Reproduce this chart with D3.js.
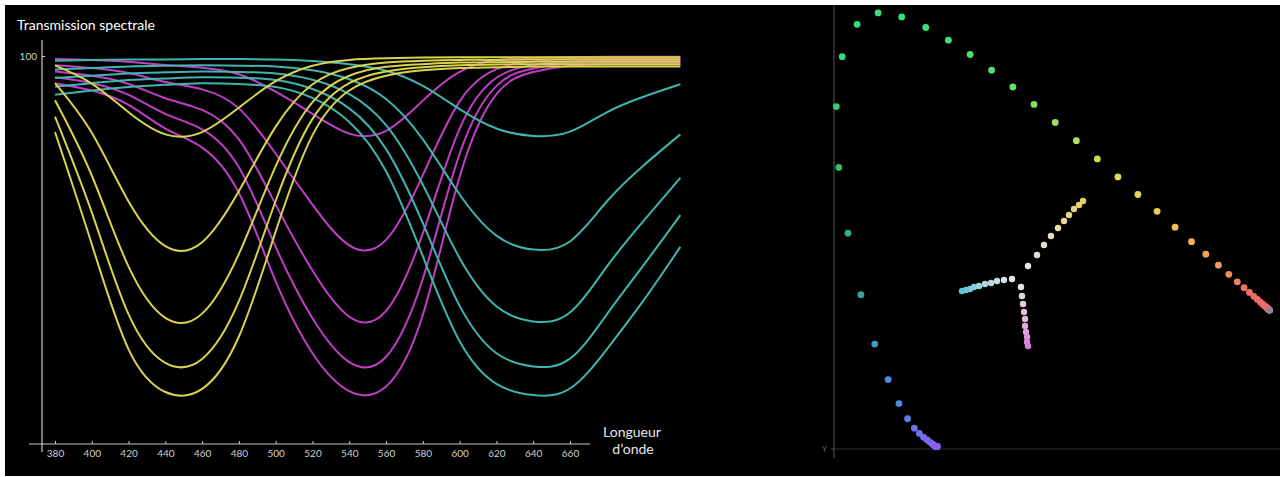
<!DOCTYPE html>
<html>
<head>
<meta charset="utf-8">
<script src="https://cdn.jsdelivr.net/npm/d3@7"></script>
<style>
  html, body { margin: 0; padding: 0; background: #ffffff; }
  svg { display: block; }
  text { font-family: Lato, "Open Sans", sans-serif; }
</style>
</head>
<body>
<svg id="chart" width="1280" height="477"></svg>
<script>
// ---- Spectral transmission (percent) sampled every 20 nm ----
const wavelengths = [380, 400, 420, 440, 460, 480, 500, 520, 540, 560, 580, 600, 620, 640, 660, 680, 700, 720];
const axisTicks = [380, 400, 420, 440, 460, 480, 500, 520, 540, 560, 580, 600, 620, 640, 660];

// Yellow filters, increasing density
const yellow1 = [97.6, 92.9, 85.5, 79.8, 80.4, 86.7, 93.5, 97.5, 99.0, 99.4, 99.6, 99.7, 99.7, 99.7, 99.7, 99.7, 99.7, 99.7];
const yellow2 = [93.0, 80.2, 62.5, 51.0, 52.0, 65.2, 81.8, 92.7, 96.9, 98.3, 98.8, 99.0, 99.0, 99.1, 99.1, 99.1, 99.1, 99.1];
const yellow3 = [88.6, 69.2, 45.7, 32.5, 33.6, 49.0, 71.6, 88.1, 94.9, 97.2, 97.9, 98.3, 98.4, 98.5, 98.5, 98.5, 98.5, 98.5];
const yellow4 = [84.4, 59.7, 33.4, 20.9, 21.9, 36.8, 62.7, 83.8, 93.0, 96.0, 97.1, 97.6, 97.8, 97.9, 97.9, 97.9, 97.9, 97.9];
const yellow5 = [80.4, 51.5, 24.4, 13.4, 14.2, 27.7, 54.8, 79.6, 91.1, 94.9, 96.3, 96.9, 97.1, 97.3, 97.3, 97.3, 97.3, 97.3];

// Magenta filters, increasing density
const magenta1 = [99.2, 99.0, 98.5, 97.7, 97.0, 95.3, 90.8, 85.1, 80.0, 80.7, 88.5, 95.9, 98.9, 99.5, 99.7, 99.8, 99.8, 99.8];
const magenta2 = [97.6, 96.9, 95.6, 93.3, 91.4, 86.5, 74.8, 61.7, 51.2, 52.6, 69.3, 88.3, 96.6, 98.6, 99.2, 99.3, 99.3, 99.3];
const magenta3 = [96.0, 94.9, 92.8, 89.1, 86.1, 78.5, 61.7, 44.7, 32.8, 34.3, 54.3, 81.3, 94.4, 97.7, 98.6, 98.9, 98.9, 98.9];
const magenta4 = [94.5, 93.0, 90.0, 85.1, 81.1, 71.3, 50.8, 32.4, 21.1, 22.5, 42.6, 74.8, 92.3, 96.8, 98.1, 98.4, 98.4, 98.4];
const magenta5 = [93.0, 91.1, 87.4, 81.3, 76.4, 64.7, 41.9, 23.4, 13.6, 14.8, 33.3, 68.9, 90.2, 95.9, 97.5, 97.9, 97.9, 97.9];

// Cyan filters, increasing density
const cyan1 = [98.8, 99.0, 99.1, 99.1, 99.2, 99.2, 99.1, 98.7, 97.9, 96.2, 92.3, 86.3, 81.3, 79.4, 80.5, 85.5, 89.5, 92.7];
const cyan2 = [96.5, 96.9, 97.3, 97.5, 97.6, 97.5, 97.3, 96.3, 94.0, 88.9, 78.5, 64.3, 53.7, 50.1, 52.2, 62.5, 71.8, 79.8];
const cyan3 = [94.3, 94.9, 95.5, 95.8, 96.0, 95.9, 95.5, 93.9, 90.2, 82.2, 66.8, 47.9, 35.5, 31.6, 33.9, 45.7, 57.5, 68.6];
const cyan4 = [92.1, 93.0, 93.8, 94.2, 94.5, 94.4, 93.8, 91.5, 86.5, 76.0, 56.9, 35.6, 23.4, 20.0, 22.0, 33.4, 46.1, 59.0];
const cyan5 = [90.0, 91.1, 92.0, 92.6, 93.0, 92.8, 92.0, 89.2, 83.0, 70.3, 48.4, 26.5, 15.5, 12.6, 14.3, 24.4, 37.0, 50.8];

// ---- Chromaticity diagram ----
const locusNm = [380,385,390,395,400,405,410,415,420,425,430,435,440,445,450,455,460,465,470,475,480,485,490,495,500,505,510,515,520,525,530,535,540,545,550,555,560,565,570,575,580,585,590,595,600,605,610,615,620,625,630,635,640,645,650,655,660,665,670,675,680,685,690,695,700];
const locusX = [0.1741,0.1740,0.1738,0.1736,0.1733,0.1730,0.1726,0.1721,0.1714,0.1703,0.1689,0.1669,0.1644,0.1611,0.1566,0.1510,0.1440,0.1355,0.1241,0.1096,0.0913,0.0687,0.0454,0.0235,0.0082,0.0039,0.0139,0.0389,0.0743,0.1142,0.1547,0.1929,0.2296,0.2658,0.3016,0.3373,0.3731,0.4087,0.4441,0.4788,0.5125,0.5448,0.5752,0.6029,0.6270,0.6482,0.6658,0.6801,0.6915,0.7006,0.7079,0.7140,0.7190,0.7230,0.7260,0.7283,0.7300,0.7311,0.7320,0.7327,0.7334,0.7340,0.7344,0.7346,0.7347];
const locusY = [0.0050,0.0050,0.0049,0.0049,0.0048,0.0048,0.0048,0.0048,0.0051,0.0058,0.0069,0.0086,0.0109,0.0138,0.0177,0.0227,0.0297,0.0399,0.0578,0.0868,0.1327,0.2007,0.2950,0.4127,0.5384,0.6548,0.7502,0.8120,0.8338,0.8262,0.8059,0.7816,0.7543,0.7243,0.6923,0.6589,0.6245,0.5896,0.5547,0.5202,0.4866,0.4544,0.4242,0.3965,0.3725,0.3514,0.3340,0.3197,0.3083,0.2993,0.2920,0.2859,0.2809,0.2770,0.2740,0.2717,0.2700,0.2689,0.2680,0.2673,0.2666,0.2660,0.2656,0.2654,0.2653];

// Filter chromaticities with rising density
const yellowPathX = [0.3272,0.3423,0.3541,0.3659,0.3777,0.3879,0.3963,0.4047,0.4132,0.4199];
const yellowPathY = [0.3499,0.3709,0.3901,0.4073,0.4226,0.4359,0.4474,0.4589,0.4665,0.4742];
const cyanPathX = [0.3002,0.2867,0.2749,0.2648,0.2546,0.2445,0.2361,0.2293,0.2226,0.2159];
const cyanPathY = [0.3250,0.3231,0.3212,0.3174,0.3155,0.3117,0.3098,0.3059,0.3040,0.3021];
const magentaPathX = [0.3153,0.3170,0.3187,0.3204,0.3221,0.3221,0.3238,0.3255,0.3255,0.3272];
const magentaPathY = [0.3098,0.2925,0.2772,0.2620,0.2486,0.2352,0.2237,0.2141,0.2046,0.1969];

// ---- drawing ----
const svg = d3.select("#chart");
svg.append("rect").attr("x", 5).attr("y", 5).attr("width", 1275).attr("height", 471).attr("fill", "#000");

const axisColor = "#c8c8c8";
const x = d3.scaleLinear().domain([380, 660]).range([55, 570]);
const y = d3.scaleLinear().domain([0, 100]).range([444, 56]);

const left = svg.append("g");

// axes
left.append("line").attr("x1", x(380) - 26).attr("x2", x(660) + 20)
  .attr("y1", y(0)).attr("y2", y(0)).attr("stroke", axisColor).attr("stroke-width", 1.2);
left.append("line").attr("x1", x(380) - 13).attr("x2", x(380) - 13)
  .attr("y1", y(100) - 16).attr("y2", y(0) + 8).attr("stroke", axisColor).attr("stroke-width", 1.2);

const xAxis = d3.axisBottom(x).tickValues(axisTicks).tickSizeInner(-3).tickSizeOuter(0).tickPadding(6);
const gx = left.append("g").attr("transform", `translate(0,${y(0)})`).call(xAxis);
gx.select(".domain").remove();
gx.selectAll(".tick line").attr("stroke", axisColor);
gx.selectAll(".tick text").attr("fill", "#cfcfcf").attr("font-size", 10).attr("font-family", "Lato, sans-serif");

const yAxis = d3.axisLeft(y).tickValues([100]).tickSizeInner(-3).tickSizeOuter(0).tickPadding(5);
const gy = left.append("g").attr("transform", `translate(${x(380) - 13},0)`).call(yAxis);
gy.select(".domain").remove();
gy.selectAll(".tick line").attr("stroke", axisColor);
gy.selectAll(".tick text").attr("fill", "#cfcfcf").attr("font-size", 10).attr("font-family", "Lato, sans-serif");

// curves
const line = d3.line()
  .x((d, i) => x(wavelengths[i]))
  .y(d => y(d))
  .curve(d3.curveNatural);

const families = [
  { color: "#c23ec6", series: [magenta1, magenta2, magenta3, magenta4, magenta5] },
  { color: "#3fb5b0", series: [cyan1, cyan2, cyan3, cyan4, cyan5] },
  { color: "#d9d34e", series: [yellow1, yellow2, yellow3, yellow4, yellow5] }
];
families.forEach(f => {
  left.append("g").selectAll("path").data(f.series).join("path")
    .attr("d", line)
    .attr("fill", "none")
    .attr("stroke", f.color)
    .attr("stroke-width", 2)
    .attr("stroke-linejoin", "round");
});

// titles
left.append("text").attr("x", 17).attr("y", 30).attr("fill", "#ffffff")
  .attr("font-size", 14).text("Transmission spectrale");
const xt = left.append("text").attr("x", 632).attr("y", 437).attr("fill", "#e6e6e6")
  .attr("font-size", 14).attr("text-anchor", "middle");
xt.append("tspan").attr("x", 632).text("Longueur");
xt.append("tspan").attr("x", 633).attr("dy", 17).text("d\u2019onde");

// ---- chromaticity plot ----
const cx = d3.scaleLinear().domain([0, 0.75]).range([834, 834 + 0.75 * 593]);
const cy = d3.scaleLinear().domain([0, 0.85]).range([449, 449 - 0.85 * 523]);
const right = svg.append("g");

right.append("line").attr("x1", cx(0)).attr("x2", 1280).attr("y1", cy(0)).attr("y2", cy(0))
  .attr("stroke", "#2e2e2e").attr("stroke-width", 1);
right.append("line").attr("x1", cx(0)).attr("x2", cx(0)).attr("y1", 5).attr("y2", cy(0) + 9)
  .attr("stroke", "#555").attr("stroke-width", 1);
right.append("line").attr("x1", cx(0) - 3).attr("x2", cx(0)).attr("y1", cy(0)).attr("y2", cy(0))
  .attr("stroke", "#555").attr("stroke-width", 1);
right.append("text").attr("x", cx(0) - 7).attr("y", cy(0) + 3).attr("fill", "#6a6a6a")
  .attr("font-size", 8).attr("text-anchor", "end").text("Y");

const locusStops = [380, 440, 455, 465, 475, 482, 488, 494, 500, 508, 525, 540, 550, 558, 566, 574, 582, 592, 602, 612, 622, 690, 700];
const locusColors = ["#8a5ff0", "#8a5ff0", "#7c68ee", "#6677ec", "#4f86e8", "#4b8fdc", "#3f9bb0", "#35ab80", "#30bf68", "#2fdc78", "#36e47a", "#44e070", "#66e066", "#8ee05e", "#b4e058", "#dade52", "#ecd256", "#f0bb58", "#f0a05c", "#ee8a62", "#ee6e6a", "#ec6672", "#8a8a8a"];
const locusColor = d3.scaleLinear().domain(locusStops).range(locusColors);

right.append("g").selectAll("circle").data(locusNm).join("circle")
  .attr("cx", (d, i) => cx(locusX[i]))
  .attr("cy", (d, i) => cy(locusY[i]))
  .attr("r", 3.4)
  .attr("fill", d => locusColor(d));

const branches = [
  { xs: cyanPathX, ys: cyanPathY, end: "#5ec6d2" },
  { xs: yellowPathX, ys: yellowPathY, end: "#e4cf62" },
  { xs: magentaPathX, ys: magentaPathY, end: "#dc7cd6" }
];
branches.forEach(b => {
  const n = b.xs.length;
  right.append("g").selectAll("circle").data(b.xs).join("circle")
    .attr("cx", d => cx(d))
    .attr("cy", (d, i) => cy(b.ys[i]))
    .attr("r", 3.2)
    .attr("fill", (d, i) => d3.interpolateRgb("#e4e4e4", b.end)(i / (n - 1)));
});
</script>
</body>
</html>
